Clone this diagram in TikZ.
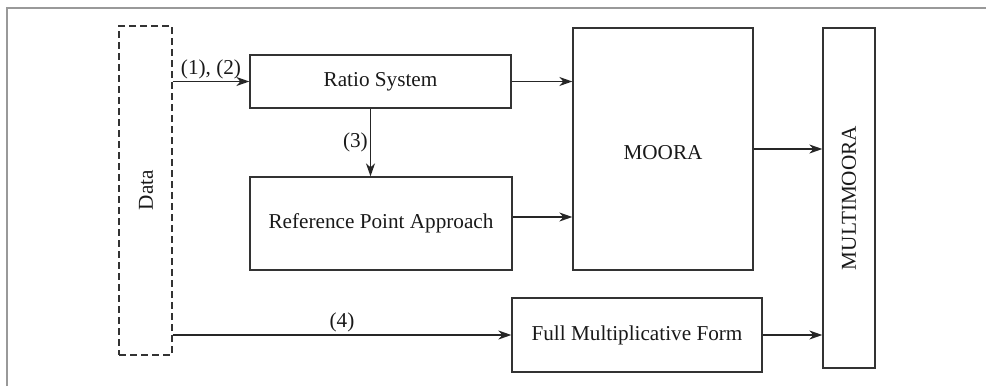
\documentclass[tikz,border=0pt]{standalone}
\usepackage{fontspec}
\setmainfont{Liberation Serif}
\usetikzlibrary{arrows.meta}
\begin{document}
\begin{tikzpicture}[x=1pt,y=-1pt,
  every node/.style={font=\fontsize{21.2}{25}\selectfont, text=black!90},
  box/.style={draw=black!80, line width=1.3pt, inner sep=0pt},
  arr/.style={draw=black!85, line width=1.4pt, -{Stealth[length=13pt,width=9pt,inset=4pt]}},
  lbl/.style={inner sep=2pt}]
\useasboundingbox (0,0) rectangle (986,386);
\draw[black!40, line width=1.5pt] (7,386) -- (7,8) -- (986,8);

\node[box, dashed, dash pattern=on 7pt off 4pt, minimum width=53pt, minimum height=329pt] (data) at (145.5,190.5) {};
\node[rotate=90] (datatext) at (146,190) {Data};
\node[box, minimum width=261pt, minimum height=53pt] (ratio) at (380.5,81.5) {Ratio System};
\node[box, minimum width=262pt, minimum height=93pt] (rpa) at (381,223.5) {Reference Point Approach};
\node[box, minimum width=180pt, minimum height=242pt] (moora) at (663,149) {};
\node (mooratext) at (663,153) {MOORA};
\node[box, minimum width=52pt, minimum height=340pt] (multi) at (849,198) {};
\node[rotate=90] (multitext) at (849,198) {MULTIMOORA};
\node[box, minimum width=250pt, minimum height=74pt] (fmf) at (637,335) {Full Multiplicative Form};

\draw[arr] (data.east |- ratio.west) -- node[lbl, above] {(1), (2)} (ratio.west);
\draw[arr] (ratio.east) -- (ratio.east -| moora.west);
\coordinate (down) at ([xshift=-10pt]ratio.south);
\draw[arr] (down) -- node[lbl, left] {(3)} (down |- rpa.north);
\coordinate (rpaout) at ([yshift=6.5pt]rpa.east);
\draw[arr] (rpaout) -- (rpaout -| moora.west);
\draw[arr] (moora.east) -- (moora.east -| multi.west);
\draw[arr] (data.east |- fmf.west) -- node[lbl, above] {(4)} (fmf.west);
\draw[arr] (fmf.east) -- (fmf.east -| multi.west);
\end{tikzpicture}
\end{document}
